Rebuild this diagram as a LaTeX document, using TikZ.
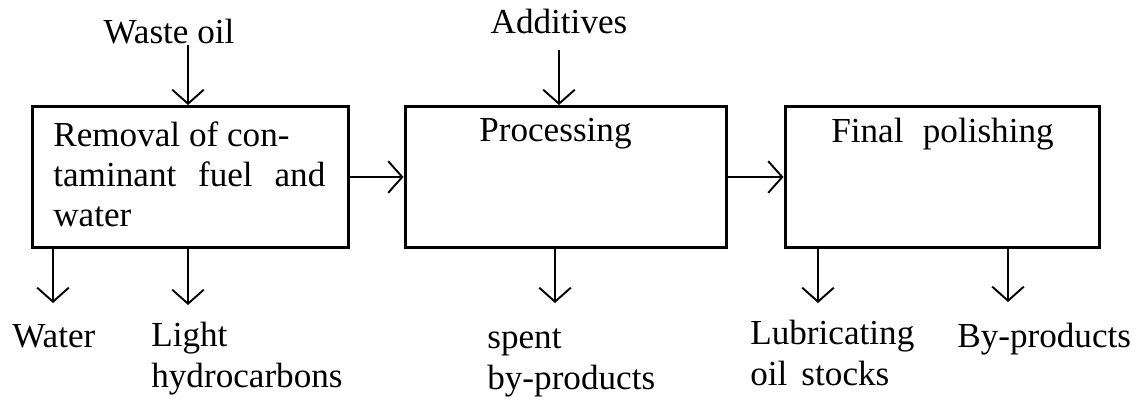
\documentclass[tikz,border=0pt]{standalone}
\usepackage{fontspec}
\setmainfont{Liberation Serif}
\usetikzlibrary{arrows.meta, positioning}

\begin{document}
\begin{tikzpicture}[
    x=0.02cm, y=-0.02cm,
    every node/.style={font=\fontsize{20pt}{23pt}\selectfont},
    stage/.style={rectangle, draw, line width=1.7pt, minimum height=2.82cm, inner sep=0pt},
    outtext/.style={align=left, inner sep=0pt, anchor=base west},
    intext/.style={anchor=base, inner sep=0pt},
    arrow/.style={-{Straight Barb[length=8pt, width=18pt]}, line width=1.1pt}
]
\useasboundingbox (0,0) rectangle (1138,403);

% the three stages
\node[stage, minimum width=6.34cm] (removal) at (190.5,177) {};
\node[stage, minimum width=6.44cm] (processing) at (566,177) {};
\node[stage, minimum width=6.3cm] (polishing) at (942.5,177) {};
\node[inner sep=0pt, anchor=base west, text width=5.44cm, align=justify] (removaltext) at (53,146) {Removal of con-\\taminant fuel and\linebreak water};
\node[below=4pt of processing.north, xshift=-6pt] (proctext) {Processing};
\node[below=4pt of polishing.north] (poltext) {Final\hspace{0.55em}polishing};

% feeds
\node[intext] (waste) at (169,43) {Waste oil};
\node[intext] (additives) at (559,33) {Additives};
\coordinate (wastein) at (188,45);
\coordinate (addin) at (559,50);

% outputs
\coordinate (waterout) at (53,303);
\coordinate (lightout) at (188,305);
\coordinate (spentout) at (555,303);
\coordinate (lubeout) at (818,303);
\coordinate (byout) at (1008,302);
\node[outtext] (water) at (12,347) {Water};
\node[outtext] (light) at (151,387) {Light\\hydrocarbons};
\node[outtext] (spent) at (487,389) {spent\\by-products};
\node[outtext] (lube) at (750,385) {Lubricating\\oil\hspace{0.4em}stocks};
\node[outtext] (byprod) at (957,347) {By-products};

\draw[arrow] (wastein) -- (wastein |- removal.north);
\draw[arrow] (addin) -- (addin |- processing.north);
\draw[arrow] (removal.east) -- (processing.west);
\draw[arrow] (processing.east) -- (polishing.west);
\draw[arrow] (removal.south -| waterout) -- (waterout);
\draw[arrow] (removal.south -| lightout) -- (lightout);
\draw[arrow] (processing.south -| spentout) -- (spentout);
\draw[arrow] (polishing.south -| lubeout) -- (lubeout);
\draw[arrow] (polishing.south -| byout) -- (byout);

\end{tikzpicture}
\end{document}
